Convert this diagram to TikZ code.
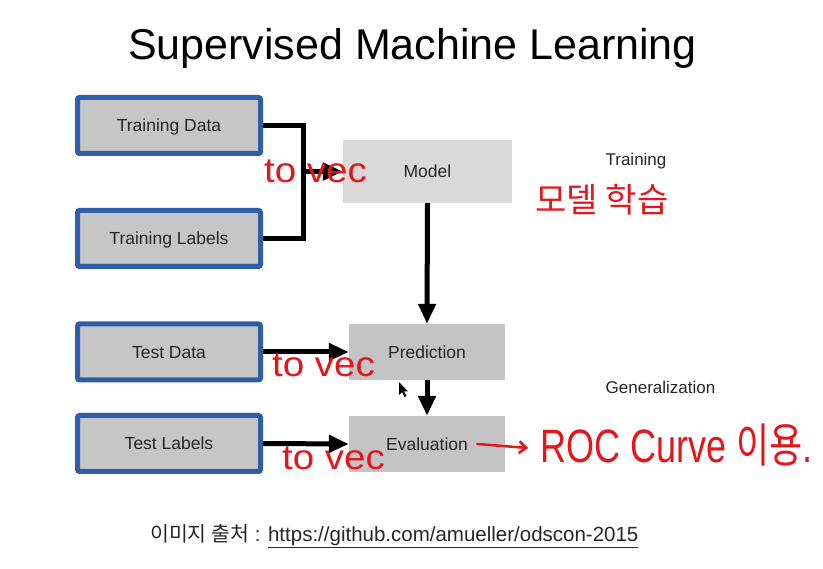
\documentclass[tikz,border=0pt]{standalone}
\usepackage{fontspec}
\setmainfont{Liberation Sans}
\newfontfamily\kr{Noto Sans CJK KR}
\usetikzlibrary{arrows.meta}
\definecolor{boxblue}{HTML}{2E5EA6}
\definecolor{boxgray}{HTML}{C6C6C6}
\definecolor{modelgray}{HTML}{D9D9D9}
\definecolor{stepgray}{HTML}{C4C4C4}
\definecolor{txt}{HTML}{262626}
\definecolor{pen}{HTML}{E3161C}
\tikzset{
  databox/.style={draw=boxblue, line width=5pt, rounded corners=2pt, fill=boxgray,
    minimum width=183pt, minimum height=56pt, inner sep=0pt, text=txt,
    text height=12.5pt, text depth=0pt,
    font=\fontsize{17.5}{20}\selectfont},
  stagebox/.style={fill=stepgray, minimum width=156pt, minimum height=56pt,
    inner sep=0pt, text=txt, text height=12.5pt, text depth=0pt,
    font=\fontsize{17.5}{20}\selectfont},
  flow/.style={line width=5pt, line join=miter},
  flowarrow/.style={line width=5pt, -{Triangle[length=20pt,width=17pt]}},
  sidelabel/.style={text=txt, font=\fontsize{17}{20}\selectfont, inner sep=0pt},
  note/.style={text=pen, inner sep=0pt, font=\fontsize{35}{40}\selectfont},
}
\begin{document}
\begin{tikzpicture}[x=1pt,y=-1pt]
\useasboundingbox (0,0) rectangle (823,569);
\fill[white] (0,0) rectangle (823,569);

\node[anchor=base, inner sep=0pt, font=\fontsize{43}{48}\selectfont] (title) at (412.5,60) {Supervised Machine Learning};

\node[databox] (td) at (169,125.5) {Training Data};
\node[databox] (tl) at (169,238.5) {Training Labels};
\node[databox] (ted) at (169,352) {Test Data};
\node[databox] (tel) at (169,443.5) {Test Labels};

\node[stagebox, fill=modelgray, minimum width=169pt, minimum height=63pt] (model) at (427.5,171.5) {Model};
\node[stagebox] (pred) at (427,352) {Prediction};
\node[stagebox] (eval) at (427,444) {Evaluation};

\node[sidelabel] (trlab) at (636,161) {Training};
\node[sidelabel] (genlab) at (660.5,387) {Generalization};

\coordinate (bx) at (303,171.5);
\draw[flow] (td.east) -| (bx) |- (tl.east);
\draw[flowarrow] (bx) -- (model.west);
\draw[flowarrow] (ted.east) -- (pred.west);
\draw[flowarrow] (tel.east) -- (eval.west);
\draw[flowarrow] (model.south) -- (pred.north);
\draw[flowarrow] (pred.south) -- (eval.north);

% handwritten notes
\node[note, anchor=base west] (v1) at (264,183) {\scalebox{1.1}[1]{to vec}};
\node[note, anchor=base west] (v2) at (272,377) {\scalebox{1.1}[1]{to vec}};
\node[note, anchor=base west] (v3) at (282,470) {\scalebox{1.1}[1]{to vec}};
\node[note, font=\kr\fontsize{34}{38}\selectfont] (ml) at (602,200) {모델 학습};
\node[note, anchor=west, font=\fontsize{36}{40}\selectfont] (roc) at (540,445) {\scalebox{1}[1.3]{ROC Curve {\kr 이용}.}};
\draw[pen, line width=2.5pt, line cap=round, -{Straight Barb[length=7pt,width=12pt]}] ([xshift=-28pt]eval.east) -- ([xshift=-12pt,yshift=-3pt]roc.west);

% mouse pointer
\fill[black] (399,382) -- (399,395) -- (402,392) -- (404.5,397) -- (406.5,396) -- (404,391.5) -- (408,391.5) -- cycle;

% caption
\node[anchor=base west, inner sep=0pt, text=txt, font=\fontsize{20.5}{24}\selectfont] (cap) at (150,542) {{\kr 이미지 출처} : \underline{https://github.com/amueller/odscon-2015}};
\end{tikzpicture}
\end{document}
